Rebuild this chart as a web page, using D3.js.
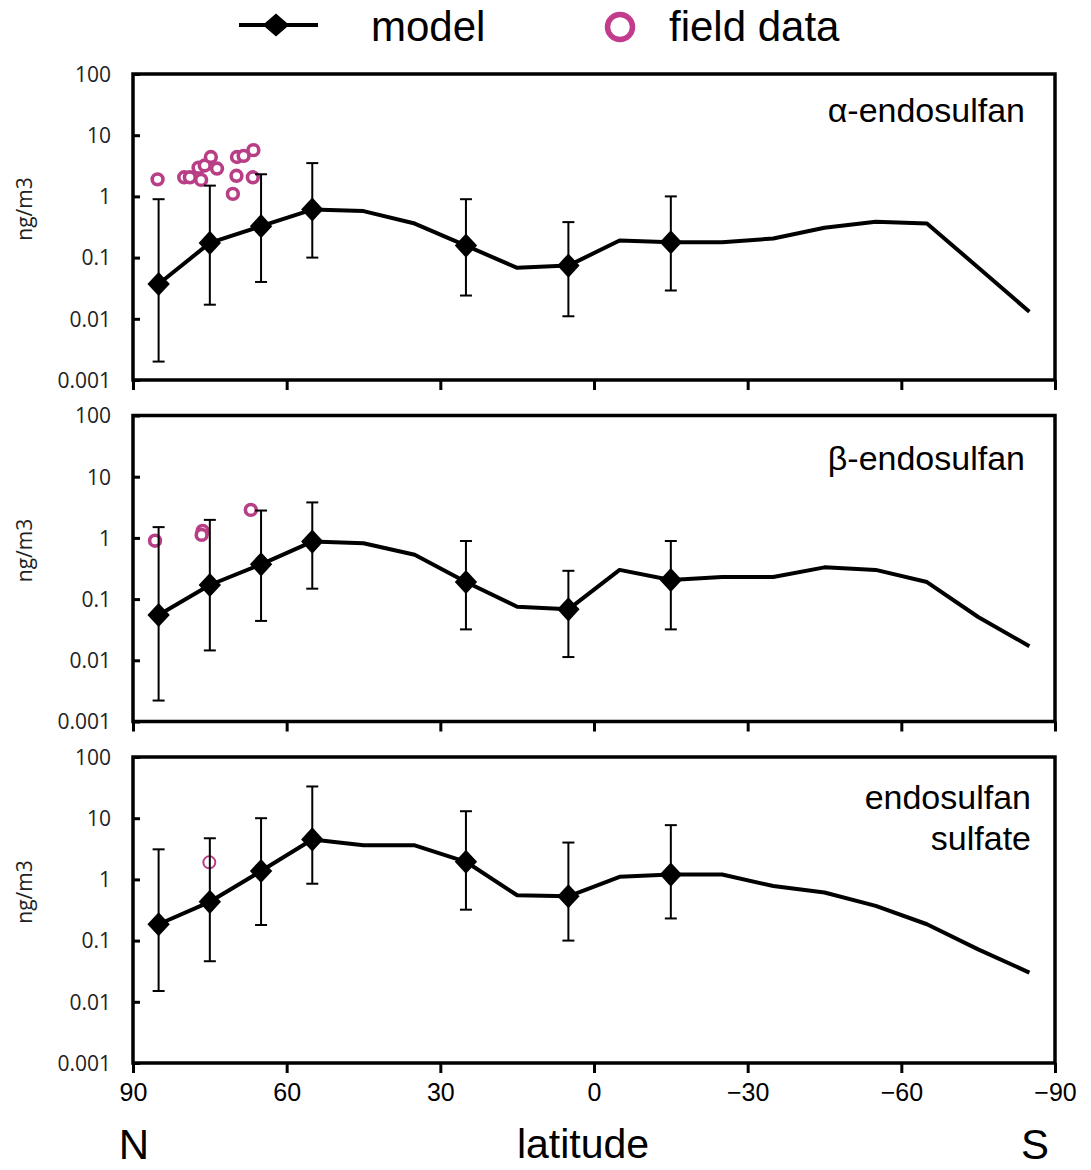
<!DOCTYPE html>
<html lang="en">
<head>
    <meta charset="UTF-8">
    <title>Endosulfan vs latitude</title>
    <script src="https://d3js.org/d3.v7.min.js"></script>
    <style>
        body {
            margin: 0;
            background: #fff;
        }

        svg {
            display: block;
            font-family: 'Liberation Sans', Arial, sans-serif;
        }

        .frame {
            fill: none;
            stroke: #000;
            stroke-width: 3.5px;
        }

        .model-line {
            fill: none;
            stroke: #000;
            stroke-width: 4px;
            stroke-linejoin: round;
        }

        .err {
            stroke: #000;
            stroke-width: 2px;
        }

        .yaxis text {
            font-family: 'Open Sans', sans-serif;
            font-size: 21px;
            fill: #222;
        }

        .xaxis text {
            font-size: 25px;
            fill: #000;
        }
    </style>
</head>
<body>
    <svg id="chart" width="1091" height="1170"></svg>

    <script>
        // model latitudes (band centres) and values
        const lats = [85, 75, 65, 55, 45, 35, 25, 15, 5, -5, -15, -25, -35, -45, -55, -65, -75, -85];
        const alphaModel = [0.037, 0.174, 0.326, 0.61, 0.575, 0.36, 0.157, 0.068, 0.074, 0.19, 0.178, 0.178, 0.205, 0.307, 0.385, 0.36, 0.069, 0.013];
        const betaModel = [0.055, 0.17, 0.37, 0.87, 0.82, 0.53, 0.19, 0.075, 0.068, 0.30, 0.205, 0.23, 0.23, 0.33, 0.30, 0.19, 0.051, 0.017];
        const sulfateModel = [0.185, 0.43, 1.37, 4.5, 3.6, 3.6, 1.94, 0.55, 0.53, 1.1, 1.2, 1.2, 0.78, 0.61, 0.37, 0.185, 0.072, 0.030];

        // diamonds with error bars
        const markLats = [85, 75, 65, 55, 25, 5, -15];
        const alphaLow = [0.002, 0.017, 0.04, 0.1, 0.024, 0.011, 0.029];
        const alphaHigh = [0.9, 1.5, 2.3, 3.5, 0.9, 0.38, 1.0];
        const betaLow = [0.0022, 0.0145, 0.044, 0.148, 0.032, 0.0113, 0.032];
        const betaHigh = [1.5, 1.97, 2.8, 3.8, 0.89, 0.29, 0.89];
        const sulfateLow = [0.015, 0.046, 0.18, 0.85, 0.32, 0.1, 0.23];
        const sulfateHigh = [3.1, 4.7, 10, 33, 13, 4.0, 7.7];

        // field measurements
        const alphaFieldLat = [85.2, 80.0, 78.9, 76.7, 77.2, 76.0, 74.8, 73.6, 69.7, 68.4, 66.5, 69.8, 66.6, 70.5];
        const alphaFieldVal = [1.9, 2.05, 2.05, 1.86, 2.95, 3.2, 4.4, 2.85, 4.4, 4.6, 5.7, 2.17, 2.05, 1.1];
        const betaFieldLat = [85.7, 76.4, 76.6, 67.0];
        const betaFieldVal = [0.9, 1.3, 1.12, 2.87];
        const sulfateFieldLat = [75.1];
        const sulfateFieldVal = [1.9];

        const panelNames = [["α-endosulfan"], ["β-endosulfan"], ["endosulfan", "sulfate"]];
        const yTicks = [100, 10, 1, 0.1, 0.01, 0.001];
        const xTicks = [90, 60, 30, 0, -30, -60, -90];

        const panels = [
            { model: alphaModel, low: alphaLow, high: alphaHigh, fLat: alphaFieldLat, fVal: alphaFieldVal, name: panelNames[0], thin: false },
            { model: betaModel, low: betaLow, high: betaHigh, fLat: betaFieldLat, fVal: betaFieldVal, name: panelNames[1], thin: false },
            { model: sulfateModel, low: sulfateLow, high: sulfateHigh, fLat: sulfateFieldLat, fVal: sulfateFieldVal, name: panelNames[2], thin: true }
        ];

        const left = 133, right = 1055;
        const tops = [74, 415.5, 757];
        const ph = 306;
        const magenta = "#b83f86";

        const svg = d3.select("#chart");
        const x = d3.scaleLinear().domain([90, -90]).range([left, right]);
        // rotated square, like the original's markers
        const diamond = d3.symbol().type(d3.symbolSquare).size(250);

        panels.forEach((p, i) => {
            const top = tops[i];
            const y = d3.scaleLog().domain([0.001, 100]).range([top + ph, top]);
            const g = svg.append("g");

            // y axis: inward ticks, labels outside
            g.append("g")
                .attr("class", "yaxis")
                .attr("transform", `translate(${left},0)`)
                .call(d3.axisLeft(y).tickValues(yTicks).tickSize(-7).tickPadding(22)
                    .tickFormat(d => d.toString()))
                .call(a => a.select(".domain").remove())
                .call(a => a.selectAll("line").attr("stroke-width", 3))
                .call(a => a.selectAll("text").attr("dy", "0.35em"));

            // x axis ticks below each panel
            const xa = g.append("g")
                .attr("class", "xaxis")
                .attr("transform", `translate(0,${top + ph})`)
                .call(d3.axisBottom(x).tickValues(xTicks).tickSize(10).tickPadding(10)
                    .tickFormat(d3.format("d")))
                .call(a => a.select(".domain").remove())
                .call(a => a.selectAll("line").attr("stroke-width", 3));
            if (i < 2) xa.selectAll("text").remove();

            g.append("rect")
                .attr("class", "frame")
                .attr("x", left).attr("y", top)
                .attr("width", right - left).attr("height", ph);

            // y label
            g.append("text")
                .attr("transform", `translate(32,${top + 135}) rotate(-90)`)
                .attr("text-anchor", "middle")
                .style("font-family", "'Open Sans', sans-serif")
                .style("font-size", "21px")
                .style("fill", "#222")
                .text("ng/m3");

            // compound name
            const nameX = i === 2 ? 1031 : 1025;
            const nameY = i === 0 ? 122 : (i === 1 ? 470 : 809);
            p.name.forEach((t, k) => {
                g.append("text")
                    .attr("x", nameX)
                    .attr("y", nameY + k * 41)
                    .attr("text-anchor", "end")
                    .style("font-size", "34px")
                    .text(t);
            });

            // field data
            g.selectAll(".field")
                .data(p.fLat.map((d, k) => [d, p.fVal[k]]))
                .enter().append("circle")
                .attr("cx", d => x(d[0]))
                .attr("cy", d => y(d[1]))
                .attr("r", p.thin ? 6 : 5.4)
                .style("fill", "#fff")
                .style("stroke", magenta)
                .style("stroke-width", p.thin ? 2 : 3.6);

            // error bars
            const errs = markLats.map((d, k) => ({ lat: d, lo: p.low[k], hi: p.high[k] }));
            const eb = g.selectAll(".eb").data(errs).enter().append("g");
            eb.append("line").attr("class", "err")
                .attr("x1", d => x(d.lat)).attr("x2", d => x(d.lat))
                .attr("y1", d => y(d.lo)).attr("y2", d => y(d.hi));
            eb.append("line").attr("class", "err")
                .attr("x1", d => x(d.lat) - 6).attr("x2", d => x(d.lat) + 6)
                .attr("y1", d => y(d.lo)).attr("y2", d => y(d.lo));
            eb.append("line").attr("class", "err")
                .attr("x1", d => x(d.lat) - 6).attr("x2", d => x(d.lat) + 6)
                .attr("y1", d => y(d.hi)).attr("y2", d => y(d.hi));

            // model line
            const line = d3.line().x((d, k) => x(lats[k])).y(d => y(d));
            g.append("path").attr("class", "model-line").attr("d", line(p.model));

            g.selectAll(".dia")
                .data(markLats)
                .enter().append("path")
                .attr("d", diamond)
                .attr("transform", d => `translate(${x(d)},${y(p.model[lats.indexOf(d)])}) scale(1,1.08) rotate(45)`)
                .style("fill", "#000");
        });

        // legend
        const lg = svg.append("g");
        lg.append("line").attr("x1", 239).attr("x2", 318).attr("y1", 25).attr("y2", 25)
            .style("stroke", "#000").style("stroke-width", 4);
        lg.append("path").attr("d", d3.symbol().type(d3.symbolSquare).size(290))
            .attr("transform", "translate(276,25) scale(1.1,0.95) rotate(45)").style("fill", "#000");
        lg.append("text").attr("x", 371).attr("y", 41).style("font-size", "42px").text("model");
        lg.append("circle").attr("cx", 620).attr("cy", 27).attr("r", 12.5)
            .style("fill", "none").style("stroke", "#c23b8c").style("stroke-width", 5.5);
        lg.append("text").attr("x", 669).attr("y", 41).style("font-size", "42px").text("field data");

        // bottom labels
        svg.append("text").attr("x", 583).attr("y", 1158).attr("text-anchor", "middle")
            .style("font-size", "41px").text("latitude");
        svg.append("text").attr("x", 134).attr("y", 1159).attr("text-anchor", "middle")
            .style("font-size", "42px").text("N");
        svg.append("text").attr("x", 1035).attr("y", 1159).attr("text-anchor", "middle")
            .style("font-size", "42px").text("S");
    </script>
</body>
</html>
